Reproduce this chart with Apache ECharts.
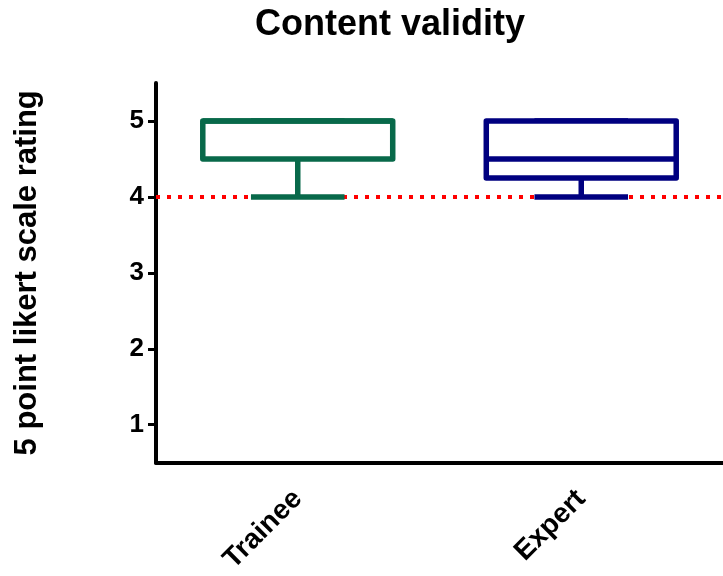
<!DOCTYPE html>
<html>
<head>
<meta charset="utf-8">
<script src="https://cdn.jsdelivr.net/npm/echarts@6/dist/echarts.min.js"></script>
<style>html,body{margin:0;padding:0;background:#fff}#c{width:723px;height:576px}</style>
</head>
<body>
<div id="c"></div>
<script>
// Data
var categories = ['Trainee', 'Expert'];
// [min, Q1, median, Q3, max]
var traineeStats = [4, 4.5, 5, 5, 5];
var expertStats = [4, 4.25, 4.5, 5, 5];
var yTicks = [1, 2, 3, 4, 5];
var threshold = 4;
var colors = ['#08694a', '#000080'];

var FONT = 'Liberation Sans, Arial, sans-serif';
var boxData = [
  [0].concat(traineeStats),
  [1].concat(expertStats)
];

var chart = echarts.init(document.getElementById('c'), null, {renderer: 'canvas'});
chart.setOption({
  animation: false,
  backgroundColor: '#fff',
  title: {
    text: 'Content validity',
    left: 385,
    top: 2,
    textAlign: 'center',
    textStyle: {fontFamily: FONT, fontWeight: 'bold', fontSize: 36, color: '#000'}
  },
  grid: {left: 156, top: 83, width: 572, height: 382, containLabel: false},
  xAxis: {
    type: 'category',
    data: categories,
    boundaryGap: true,
    axisLine: {lineStyle: {color: '#000', width: 4}},
    axisTick: {alignWithLabel: true, length: 10, lineStyle: {color: '#000', width: 3}},
    axisLabel: {rotate: 45, margin: 32, fontFamily: FONT, fontWeight: 'bold', fontSize: 28, color: '#000'},
    splitLine: {show: false}
  },
  yAxis: {
    type: 'value',
    min: 0.5,
    max: 5.5,
    name: '5 point likert scale rating',
    nameLocation: 'middle',
    nameGap: 113,
    nameTextStyle: {fontFamily: FONT, fontWeight: 'bold', fontSize: 31, color: '#000'},
    axisLine: {show: true, lineStyle: {color: '#000', width: 4}},
    axisTick: {show: true, length: 8, customValues: yTicks, lineStyle: {color: '#000', width: 3}},
    axisLabel: {customValues: yTicks, margin: 12, fontFamily: FONT, fontWeight: 'bold', fontSize: 26, color: '#000'},
    splitLine: {show: false}
  },
  series: [
    {
      type: 'line',
      data: [],
      z: 1,
      markLine: {
        silent: true,
        z: 1,
        symbol: 'none',
        label: {show: false},
        lineStyle: {color: '#ff0000', width: 4, type: [4, 7]},
        data: [{yAxis: threshold}]
      }
    },
    {
      type: 'custom',
      z: 10,
      data: boxData,
      renderItem: function (params, api) {
        var idx = api.value(0);
        var band = api.size([1, 0])[0];
        var bw = band * 0.67, cw = band * 0.33;
        var pMin = api.coord([idx, api.value(1)]);
        var pQ1 = api.coord([idx, api.value(2)]);
        var pMed = api.coord([idx, api.value(3)]);
        var pQ3 = api.coord([idx, api.value(4)]);
        var pMax = api.coord([idx, api.value(5)]);
        var cx = pMin[0];
        var col = colors[idx];
        var lw = 5.5;
        var st = {stroke: col, fill: null, lineWidth: lw, lineJoin: 'round', lineCap: 'butt'};
        return {
          type: 'group',
          children: [
            {type: 'line', shape: {x1: cx, y1: pQ1[1], x2: cx, y2: pMin[1]}, style: st},
            {type: 'line', shape: {x1: cx - cw / 2, y1: pMin[1], x2: cx + cw / 2, y2: pMin[1]}, style: st},
            {type: 'line', shape: {x1: cx, y1: pQ3[1], x2: cx, y2: pMax[1]}, style: st},
            {type: 'line', shape: {x1: cx - cw / 2, y1: pMax[1], x2: cx + cw / 2, y2: pMax[1]}, style: st},
            {type: 'rect', shape: {x: cx - bw / 2, y: pQ3[1], width: bw, height: pQ1[1] - pQ3[1]}, style: {stroke: col, fill: '#fff', lineWidth: lw, lineJoin: 'round'}},
            {type: 'line', shape: {x1: cx - bw / 2, y1: pMed[1], x2: cx + bw / 2, y2: pMed[1]}, style: st}
          ]
        };
      }
    }
  ]
});
</script>
</body>
</html>
